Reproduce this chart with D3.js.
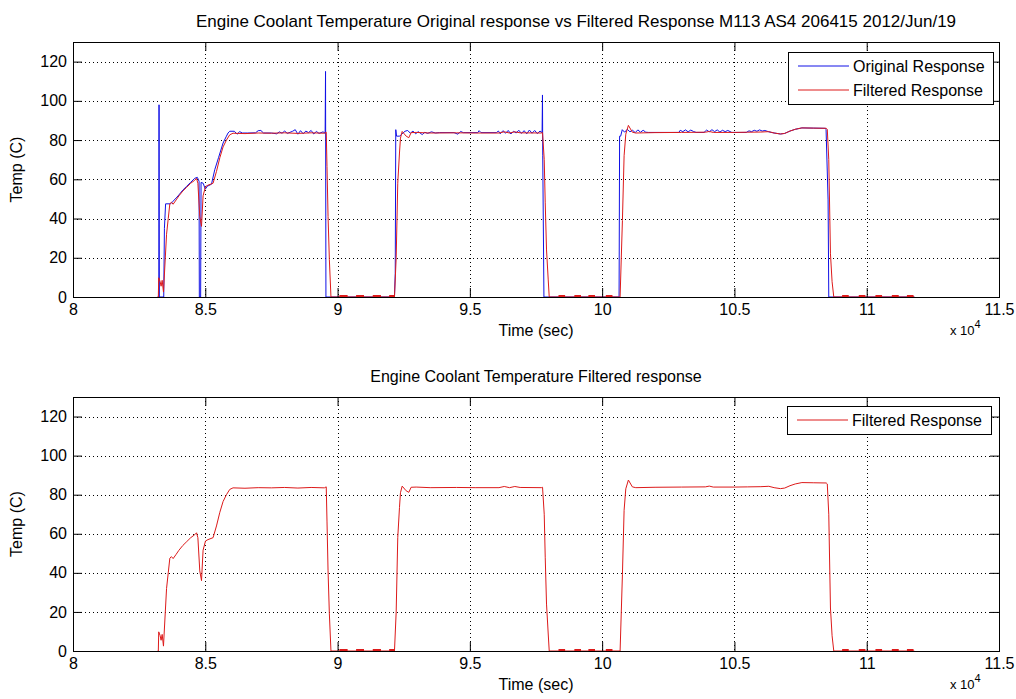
<!DOCTYPE html>
<html>
<head>
<meta charset="utf-8">
<script src="https://cdn.jsdelivr.net/npm/d3@7"></script>
<style>
body { margin: 0; background: #fff; }
text { font-family: "Liberation Sans", Arial, sans-serif; fill: #000; }
.grid line { stroke: #000; stroke-width: 1; stroke-dasharray: 1,3; }
.line { fill: none; stroke-width: 1; }
</style>
</head>
<body>
<script>

// tick values (time in sec, temperature in C)
var xTicks = [80000, 85000, 90000, 95000, 100000, 105000, 110000, 115000];
var yTicks = [0, 20, 40, 60, 80, 100, 120];

// original sensor response [time, temp]
var original = [
  [83200, 0], [83245, 0], [83252, 98], [83262, 0], [83430, 0], [83455, 35], [83500, 47.5],
  [83690, 47.5], [83760, 48.5], [83900, 50.5], [84000, 52], [84150, 54.5], [84300, 56.5],
  [84450, 58.5], [84600, 60.5], [84700, 61], [84765, 59], [84775, 0], [84825, 0], [84840, 58.4],
  [84920, 58], [85000, 55], [85080, 56.5], [85234, 57.5], [85358, 64.9], [85500, 71],
  [85672, 78.5], [85800, 82], [85860, 83.6], [85925, 84.5], [86100, 84.5], [86200, 83.0],
  [86300, 84.3], [86400, 83.6], [86600, 83.6], [86900, 83.7], [87000, 84.8], [87100, 84.9],
  [87200, 83.6], [87500, 83.6], [87700, 83.2], [87800, 84.2], [87900, 83.5], [88000, 84.6],
  [88100, 83.4], [88300, 84.5], [88400, 85.3], [88500, 83.0], [88600, 84.8], [88700, 83.2],
  [88800, 84.6], [88900, 83.8], [89000, 84.9], [89100, 83.1], [89200, 84.4], [89300, 83.4],
  [89450, 84.2], [89530, 83.5], [89545, 115], [89560, 0], [92150, 0], [92180, 12],
  [92200, 85.3], [92230, 82], [92350, 82], [92420, 83], [92550, 84.5], [92650, 84.9],
  [92750, 83.5], [92850, 84.6], [92950, 83.2], [93050, 84.3], [93200, 82.8], [93300, 84],
  [93400, 83.4], [93550, 84.2], [93700, 83.6], [93850, 83.8], [94400, 83.8], [94550, 83],
  [94650, 84.4], [94750, 83.8], [95300, 83.8], [95350, 84.8], [95420, 83.8], [96000, 83.8],
  [96080, 84.6], [96150, 83.2], [96250, 84.8], [96350, 83.5], [96450, 84.9], [96550, 83.1],
  [96650, 84.5], [96750, 83.6], [96850, 85], [96950, 83.4], [97050, 84.8], [97150, 83.2],
  [97250, 85.1], [97350, 83.5], [97450, 84.9], [97550, 83.3], [97650, 84.6], [97730, 83.8],
  [97745, 103], [97755, 72], [97800, 0], [100640, 0], [100660, 82], [100700, 82],
  [100760, 85.3], [100850, 84], [100950, 85.5], [101050, 84.2], [101150, 85.0], [101250, 83.8],
  [101350, 85.2], [101450, 84.0], [101550, 85.0], [101650, 84.0], [101750, 83.9], [102900, 83.9],
  [102950, 85], [103050, 84.3], [103150, 85.2], [103250, 84.2], [103350, 85.1], [103450, 84.4],
  [103550, 83.9], [103850, 83.9], [103950, 85.1], [104050, 84.2], [104150, 85.3], [104250, 84.3],
  [104350, 85.2], [104450, 84.1], [104550, 85], [104650, 84.3], [104750, 84.9], [104900, 83.9],
  [105450, 83.9], [105550, 84.7], [105650, 84.3], [105750, 85], [105850, 84.5], [105950, 85.2],
  [106050, 84.6], [106150, 84.9], [106300, 84.2], [106500, 83.6], [106740, 83.1], [106900, 83.4],
  [107100, 84.6], [107300, 85.5], [107550, 86.2], [108000, 86.1], [108440, 86], [108464, 85.3],
  [108540, 49.5], [108566, 0], [111800, 0]
];

// filtered response [time, temp]
var filtered = [
  [83200, 0], [83225, 0], [83240, 9.8], [83290, 8], [83330, 5.5], [83370, 8.5], [83420, 2.5],
  [83536, 32], [83600, 40], [83660, 47.5], [83720, 48.3], [83785, 47.3], [83900, 49.5],
  [84000, 51.5], [84150, 54], [84300, 56], [84450, 58], [84600, 59.5], [84668, 60.5],
  [84720, 58], [84792, 41], [84857, 36], [84917, 51.6], [85008, 56.3], [85100, 57],
  [85294, 58], [85423, 64], [85550, 71], [85672, 76.5], [85800, 80], [85925, 82.7],
  [86049, 83.5], [86500, 83.3], [87000, 83.6], [87500, 83.5], [88000, 83.7], [88500, 83.4],
  [89000, 83.7], [89500, 83.5], [89572, 84], [89600, 66.5], [89640, 41], [89690, 19],
  [89750, 0], [92151, 0], [92215, 20], [92275, 58], [92340, 73.4], [92377, 81],
  [92442, 84.4], [92592, 82], [92692, 81.2], [92780, 83.8], [92970, 83.9], [93500, 83.6],
  [94500, 83.7], [95200, 83.6], [96100, 83.6], [96300, 84.2], [96500, 83.6], [96700, 84.2],
  [96900, 83.7], [97700, 83.6], [97747, 83.8], [97811, 70], [97849, 48], [97898, 24],
  [97962, 8.7], [98000, 0], [100679, 0], [100766, 39], [100830, 72], [100894, 83],
  [100992, 87.5], [101143, 84], [101272, 83.6], [102000, 83.8], [103000, 83.9], [103900, 84.0],
  [104050, 84.4], [104200, 83.9], [105000, 83.9], [105500, 84.0], [106000, 84.1], [106300, 84.3],
  [106500, 83.6], [106740, 83.1], [106900, 83.4], [107100, 84.6], [107300, 85.5], [107550, 86.2],
  [108000, 86.1], [108470, 86.0], [108510, 85.5], [108566, 70], [108630, 22], [108691, 7.8],
  [108755, 0], [111800, 0]
];

// short red pieces of the filtered line visible just above the x axis while the engine is off
var offDashes = [
  [90070, 90380], [90700, 91000], [91330, 91640], [91950, 92150],
  [98350, 98600], [98950, 99200], [99480, 99730], [100140, 100390],
  [109070, 109320], [109700, 109950], [110330, 110580], [110950, 111210], [111520, 111770]
];

var blue = "#1010e6", red = "#dd1a1a";

var width = 1016, height = 699;
var margin = {left: 73, right: 17};

var svg = d3.select("body").append("svg")
    .attr("width", width)
    .attr("height", height);

var x = d3.scaleLinear()
    .domain([80000, 115000])
    .range([margin.left, width - margin.right]);

var panels = [
  {top: 42, bottom: 297,
   title: "Engine Coolant Temperature Original response vs Filtered Response M113 AS4 206415 2012/Jun/19",
   titleSize: 17, titleX: 576,
   series: [{name: "Original Response", data: original, color: blue},
            {name: "Filtered Response", data: filtered, color: red}],
   legend: {x: 788, y: 52, w: 205}},
  {top: 397, bottom: 651,
   title: "Engine Coolant Temperature Filtered response",
   titleSize: 16, titleX: 536,
   series: [{name: "Filtered Response", data: filtered, color: red}],
   legend: {x: 787, y: 406, w: 204}}
];

panels.forEach(drawPanel);

function drawPanel(p) {
  var y = d3.scaleLinear().domain([0, 130]).range([p.bottom, p.top]);
  var g = svg.append("g");

  // dotted grid
  var grid = g.append("g").attr("class", "grid");
  grid.selectAll(".gx")
      .data(xTicks.slice(1, -1))
    .enter().append("line")
      .attr("x1", function(d) { return Math.round(x(d)) + 0.5; })
      .attr("x2", function(d) { return Math.round(x(d)) + 0.5; })
      .attr("y1", p.top).attr("y2", p.bottom);
  grid.selectAll(".gy")
      .data(yTicks.slice(1))
    .enter().append("line")
      .attr("x1", x.range()[0]).attr("x2", x.range()[1])
      .attr("y1", function(d) { return Math.round(y(d)) + 0.5; })
      .attr("y2", function(d) { return Math.round(y(d)) + 0.5; });

  var line = d3.line()
      .x(function(d) { return x(d[0]); })
      .y(function(d) { return y(d[1]); });

  p.series.forEach(function(s) {
    g.append("path")
        .datum(s.data)
        .attr("class", "line")
        .style("stroke", s.color)
        .attr("d", line);
  });

  g.selectAll(".dash")
      .data(offDashes)
    .enter().append("line")
      .attr("x1", function(d) { return x(d[0]); })
      .attr("x2", function(d) { return x(d[1]); })
      .attr("y1", y(0) - 1).attr("y2", y(0) - 1)
      .style("stroke", red)
      .style("stroke-width", 2);

  // inward ticks on all four sides
  var xb = d3.axisBottom(x).tickValues(xTicks).tickSize(-9).tickSizeOuter(0).tickPadding(7)
      .tickFormat(function(d) { return d / 1e4; });
  var xt = d3.axisTop(x).tickValues(xTicks).tickSize(-9).tickSizeOuter(0).tickFormat("");
  var yl = d3.axisLeft(y).tickValues(yTicks).tickSize(-9).tickSizeOuter(0).tickPadding(6);
  var yr = d3.axisRight(y).tickValues(yTicks).tickSize(-9).tickSizeOuter(0).tickFormat("");

  [[xb, "translate(0," + p.bottom + ")"], [xt, "translate(0," + p.top + ")"],
   [yl, "translate(" + x.range()[0] + ",0)"], [yr, "translate(" + x.range()[1] + ",0)"]]
  .forEach(function(a) {
    var ax = g.append("g").attr("transform", a[1]).call(a[0]);
    ax.select(".domain").remove();
    ax.selectAll("line").attr("stroke", "#000");
    ax.selectAll("text").style("font-size", "16px").style("font-family", null);
  });

  g.append("rect")
      .attr("x", x.range()[0] + 0.5).attr("y", p.top + 0.5)
      .attr("width", x.range()[1] - x.range()[0]).attr("height", p.bottom - p.top)
      .attr("fill", "none").attr("stroke", "#000");

  // titles and labels
  var cx = (x.range()[0] + x.range()[1]) / 2;
  g.append("text")
      .attr("x", p.titleX).attr("y", p.top - 15)
      .attr("text-anchor", "middle")
      .style("font-size", p.titleSize + "px")
      .text(p.title);

  g.append("text")
      .attr("x", cx).attr("y", p.bottom + 39)
      .attr("text-anchor", "middle")
      .style("font-size", "16px")
      .text("Time (sec)");

  g.append("text")
      .attr("transform", "translate(22," + (p.top + p.bottom) / 2 + ") rotate(-90)")
      .attr("text-anchor", "middle")
      .style("font-size", "16px")
      .text("Temp (C)");

  var ex = g.append("text")
      .attr("x", 950).attr("y", p.bottom + 38)
      .style("font-size", "13px");
  ex.append("tspan").text("x 10");
  ex.append("tspan").attr("dy", -7).style("font-size", "11px").text("4");

  // legend
  var lg = g.append("g").attr("transform", "translate(" + p.legend.x + "," + p.legend.y + ")");
  var rowH = 24;
  lg.append("rect")
      .attr("x", 0.5).attr("y", 0.5)
      .attr("width", p.legend.w).attr("height", p.series.length * rowH + 4)
      .attr("fill", "#fff").attr("stroke", "#000");
  var item = lg.selectAll(".item")
      .data(p.series)
    .enter().append("g")
      .attr("transform", function(d, i) { return "translate(0," + (14 + i * rowH) + ")"; });
  item.append("line")
      .attr("x1", 10).attr("x2", 61)
      .style("stroke", function(d) { return d.color; });
  item.append("text")
      .attr("x", 65).attr("dy", "0.35em")
      .style("font-size", "16px")
      .text(function(d) { return d.name; });
}
</script>
</body>
</html>
